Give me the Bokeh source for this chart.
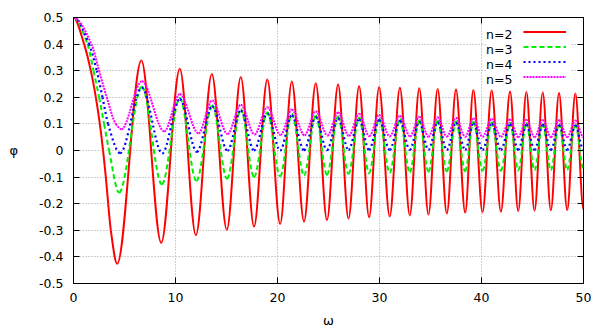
import numpy as np
from bokeh.plotting import figure
from bokeh.models import (ColumnDataSource, FixedTicker, LinearAxis, Legend,
                          LegendItem, Range1d)
from bokeh.embed import file_html
from bokeh.resources import INLINE

# ---- data (extrema and a few points on the first descent) ----
red_w = [0, 1.04, 1.70, 2.19, 2.58, 2.90, 3.17, 3.40, 3.66, 4.28,
         6.65, 8.60, 10.42, 12.0, 13.56, 15.03, 16.4, 17.7, 19.0, 20.26,
         21.4, 22.6, 23.75, 24.85, 25.94, 26.96, 28.0, 28.98, 29.96, 31.0,
         32.0, 32.97, 33.9, 34.8, 35.7, 36.6, 37.5, 38.4, 39.2, 40.1,
         41.0, 41.9, 42.8, 43.6, 44.4, 45.2, 46.0, 46.8, 47.6, 48.4,
         49.2, 50.0]
red_p = [0.5, 0.4, 0.3, 0.2, 0.1, 0.0, -0.1, -0.2, -0.3, -0.426,
         0.338, -0.347, 0.307, -0.318, 0.288, -0.298, 0.276, -0.286, 0.267, -0.276,
         0.259, -0.267, 0.253, -0.261, 0.248, -0.256, 0.242, -0.251, 0.238, -0.248,
         0.236, -0.244, 0.234, -0.241, 0.231, -0.237, 0.229, -0.234, 0.227, -0.232,
         0.226, -0.230, 0.222, -0.228, 0.220, -0.226, 0.218, -0.225, 0.216, -0.224,
         0.214, -0.222]

green_w = [0, 1.37, 1.96, 2.51, 3.00, 3.49, 4.47,
           6.70, 8.66, 10.42, 12.05, 13.6, 15.05, 16.4, 17.7, 19.0, 20.26,
           21.4, 22.6, 23.75, 24.85, 25.94, 26.96, 28.0, 28.98, 29.96, 31.0,
           32.0, 32.97, 33.9, 34.8, 35.7, 36.6, 37.5, 38.4, 39.2, 40.1,
           41.0, 41.9, 42.8, 43.6, 44.4, 45.2, 46.0, 46.8, 47.6, 48.4,
           49.2, 50.0]
green_p = [0.5, 0.4, 0.3, 0.2, 0.1, 0.0, -0.158,
           0.240, -0.127, 0.197, -0.114, 0.170, -0.106, 0.155, -0.100, 0.144, -0.097,
           0.138, -0.094, 0.132, -0.091, 0.128, -0.088, 0.124, -0.086, 0.120, -0.084,
           0.118, -0.082, 0.114, -0.080, 0.112, -0.079, 0.110, -0.078, 0.108, -0.077,
           0.106, -0.076, 0.104, -0.075, 0.102, -0.074, 0.101, -0.074, 0.100, -0.073,
           0.099, -0.072]

blue_w = [0, 1.53, 2.28, 2.84, 3.39, 4.57,
          6.70, 8.70, 10.42, 12.1, 13.6, 15.1, 16.4, 17.7, 19.0, 20.26,
          21.4, 22.6, 23.75, 24.85, 25.94, 26.96, 28.0, 28.98, 29.96, 31.0,
          32.0, 32.97, 33.9, 34.8, 35.7, 36.6, 37.5, 38.4, 39.2, 40.1,
          41.0, 41.9, 42.8, 43.6, 44.4, 45.2, 46.0, 46.8, 47.6, 48.4,
          49.2, 50.0]
blue_p = [0.5, 0.4, 0.3, 0.2, 0.1, -0.010,
          0.236, -0.011, 0.193, -0.005, 0.166, -0.001, 0.150, 0.000, 0.139, 0.000,
          0.132, 0.001, 0.126, 0.001, 0.121, 0.002, 0.117, 0.002, 0.114, 0.002,
          0.111, 0.002, 0.108, 0.002, 0.106, 0.002, 0.104, 0.002, 0.102, 0.002,
          0.100, 0.002, 0.098, 0.002, 0.097, 0.002, 0.096, 0.002, 0.095, 0.002,
          0.094, 0.002]

mag_w = [0, 1.76, 2.51, 3.26, 4.15, 4.70,
         6.70, 8.90, 10.42, 12.25, 13.6, 15.1, 16.4, 17.75, 19.0, 20.3,
         21.4, 22.65, 23.75, 24.9, 25.94, 27.0, 28.0, 29.0, 29.96, 31.0,
         32.0, 33.0, 33.9, 34.8, 35.7, 36.6, 37.5, 38.4, 39.2, 40.1,
         41.0, 41.9, 42.8, 43.6, 44.4, 45.2, 46.0, 46.8, 47.6, 48.4,
         49.2, 50.0]
mag_p = [0.5, 0.4, 0.3, 0.2, 0.1, 0.080,
         0.260, 0.072, 0.212, 0.065, 0.188, 0.062, 0.172, 0.060, 0.163, 0.058,
         0.154, 0.057, 0.148, 0.056, 0.143, 0.055, 0.138, 0.054, 0.134, 0.053,
         0.130, 0.053, 0.127, 0.052, 0.125, 0.052, 0.123, 0.051, 0.121, 0.051,
         0.119, 0.051, 0.117, 0.050, 0.116, 0.050, 0.115, 0.050, 0.114, 0.050,
         0.113, 0.050]

series_labels = ["n=2", "n=3", "n=4", "n=5"]
x_ticks = [0, 10, 20, 30, 40, 50]
y_ticks = [-0.5, -0.4, -0.3, -0.2, -0.1, 0.0, 0.1, 0.2, 0.3, 0.4, 0.5]
y_tick_labels = ["-0.5", "-0.4", "-0.3", "-0.2", "-0.1", "0", "0.1", "0.2", "0.3", "0.4", "0.5"]


def smooth_segments(xs, ys):
    """Cubic Hermite (monotone) segments through the read points, as Bezier controls."""
    x = np.asarray(xs, float)
    y = np.asarray(ys, float)
    h = np.diff(x)
    d = np.diff(y) / h
    m = np.zeros_like(x)
    for k in range(1, len(x) - 1):
        if d[k - 1] * d[k] > 0:
            w1 = 2 * h[k] + h[k - 1]
            w2 = h[k] + 2 * h[k - 1]
            m[k] = (w1 + w2) / (w1 / d[k - 1] + w2 / d[k])
    return ColumnDataSource(dict(
        x0=x[:-1], y0=y[:-1], x1=x[1:], y1=y[1:],
        cx0=x[:-1] + h / 3, cy0=y[:-1] + m[:-1] * h / 3,
        cx1=x[1:] - h / 3, cy1=y[1:] - m[1:] * h / 3))


FONT = "DejaVu Sans"

p = figure(width=602, height=330, output_backend="svg", toolbar_location=None,
           x_range=Range1d(0, 50), y_range=Range1d(-0.5, 0.5),
           min_border_left=73, min_border_right=19, min_border_top=17,
           min_border_bottom=47)
p.background_fill_color = "white"
p.border_fill_color = "white"
p.outline_line_color = "black"
p.outline_line_width = 1

# axes
p.xaxis.ticker = FixedTicker(ticks=x_ticks)
p.yaxis.ticker = FixedTicker(ticks=y_ticks)
p.yaxis.major_label_overrides = {v: s for v, s in zip(y_ticks, y_tick_labels)}
for ax in (p.xaxis[0], p.yaxis[0]):
    ax.major_tick_in = 6
    ax.major_tick_out = 0
    ax.minor_tick_line_color = None
    ax.axis_line_color = "black"
    ax.major_tick_line_color = "black"
    ax.major_label_text_font = FONT
    ax.major_label_text_font_size = "12.5px"
    ax.major_label_text_color = "black"
    ax.axis_label_text_font = FONT
    ax.axis_label_text_font_size = "13px"
    ax.axis_label_text_font_style = "normal"
    ax.axis_label_text_color = "black"
p.xaxis.axis_label = "ω"
p.xaxis.major_label_standoff = 9
p.xaxis.axis_label_standoff = 8
p.yaxis.axis_label = "φ"
p.yaxis.axis_label_orientation = "horizontal"
p.yaxis.major_label_standoff = 10
p.yaxis.axis_label_standoff = 18

# mirrored ticks on right and top (no labels drawn)
for place, tk in (("right", y_ticks), ("above", x_ticks)):
    ax = LinearAxis(ticker=FixedTicker(ticks=tk), major_tick_in=6, major_tick_out=0,
                    minor_tick_line_color=None, major_label_text_font_size="1px",
                    major_label_text_color=None,
                    major_label_standoff=0, axis_line_color="black")
    p.add_layout(ax, place)

# grid
for g in (p.xgrid[0], p.ygrid[0]):
    g.grid_line_color = "#a0a0a0"
    g.grid_line_dash = "1 2"
    g.grid_line_width = 1

styles = [
    dict(line_color="#ff0000", line_width=2, line_dash="solid"),
    dict(line_color="#00ee00", line_width=2, line_dash="5 3"),
    dict(line_color="#0000ff", line_width=2.2, line_dash="2 3"),
    dict(line_color="#ff00ff", line_width=2, line_dash="2 1"),
]
renderers = []
for (xs, ys), st in zip([(red_w, red_p), (green_w, green_p), (blue_w, blue_p), (mag_w, mag_p)], styles):
    src = smooth_segments(xs, ys)
    r = p.bezier(x0="x0", y0="y0", x1="x1", y1="y1", cx0="cx0", cy0="cy0",
                 cx1="cx1", cy1="cy1", source=src, **st)
    renderers.append(r)

# legend: text on the left (with white box), samples on the right
leg_text = Legend(items=[LegendItem(label=lab, renderers=[r]) for lab, r in zip(series_labels, renderers)],
                  location=(413, 196), glyph_width=0, glyph_height=15, label_height=15,
                  label_width=84, label_standoff=0, padding=3, spacing=0, margin=0,
                  border_line_color=None, background_fill_color="white", background_fill_alpha=1.0,
                  label_text_font=FONT, label_text_font_size="12.5px", label_text_color="black")
leg_glyph = Legend(items=[LegendItem(label=" ", renderers=[r]) for r in renderers],
                   location=(450, 199), glyph_width=43, glyph_height=15, label_height=15,
                   label_width=0, label_standoff=0, padding=0, spacing=0, margin=0,
                   border_line_color=None, background_fill_alpha=0.0,
                   label_text_font=FONT, label_text_font_size="12px",
                   label_text_color=None)
p.add_layout(leg_text)
p.add_layout(leg_glyph)

open("out.html", "w").write(file_html(p, INLINE))
